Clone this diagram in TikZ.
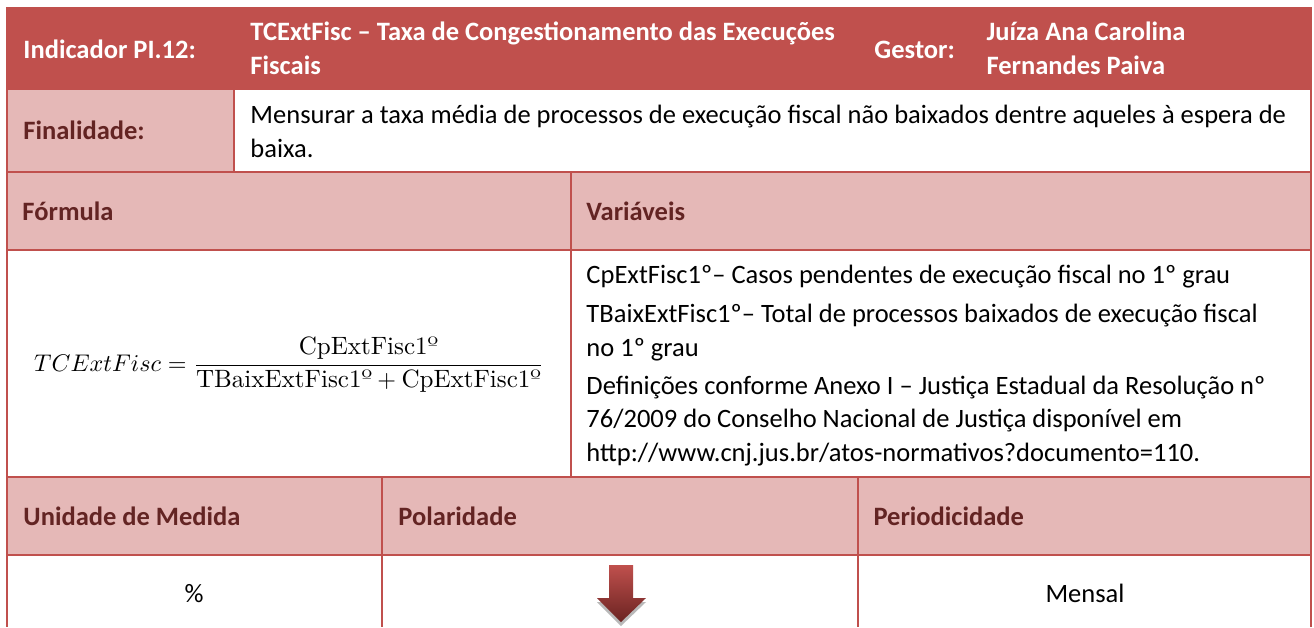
\documentclass[tikz,border=0pt]{standalone}
\usepackage{fontspec}
\usepackage{amsmath}
\newfontfamily\calibri{Carlito}

\definecolor{hdrred}{HTML}{C0504D}
\definecolor{pinkfill}{HTML}{E5B8B7}
\definecolor{labred}{HTML}{632423}
\definecolor{arrowdark}{HTML}{6A2321}

\tikzset{
  gridline/.style={draw=hdrred, line width=0.6pt},
  txt/.style={inner sep=0pt, anchor=base west, align=left,
    font=\calibri\fontsize{11}{13.7}\selectfont},
  hdrtext/.style={txt, text=white, font=\calibri\bfseries\fontsize{11}{13.7}\selectfont},
  labtext/.style={txt, text=labred, font=\calibri\bfseries\fontsize{11}{13.7}\selectfont},
}

\begin{document}
\begin{tikzpicture}[x=0.415pt,y=-0.415pt]

        % Page and cell backgrounds
        \fill[white] (0,0) rectangle (1314,627);
        \useasboundingbox (0,0) rectangle (1314,627);
        \fill[hdrred] (7,7) rectangle (1311,90);
        \fill[pinkfill] (7,90) rectangle (234,172);
        \fill[pinkfill] (7,172) rectangle (1311,250);
        \fill[pinkfill] (7,477) rectangle (1311,555);

        % Draw the table rules
        \draw[gridline] (7,7) -- (7,627);
        \draw[gridline] (1311,7) -- (1311,627);
        \draw[gridline] (7,172) -- (1311,172);
        \draw[gridline] (7,250) -- (1311,250);
        \draw[gridline] (7,477) -- (1311,477);
        \draw[gridline] (7,555) -- (1311,555);
        \draw[gridline] (234,90) -- (234,172);
        \draw[gridline] (571,172) -- (571,477);
        \draw[gridline] (382,477) -- (382,627);
        \draw[gridline] (858,477) -- (858,627);

        % Header row (multi-line nodes sit on their last line)
        \node[hdrtext] (indicador) at (23,58) {Indicador PI.12:};
        \node[hdrtext] (nome) at (250,74) {TCExtFisc – Taxa de Congestionamento das Execuções\\Fiscais};
        \node[hdrtext] (gestor) at (874,58) {Gestor:};
        \node[hdrtext] (juiza) at (986,74) {Juíza Ana Carolina\\Fernandes Paiva};

        % Finalidade row
        \node[labtext] (finalidade) at (23,139) {Finalidade:};
        \node[txt] (mensurar) at (250,157) {Mensurar a taxa média de processos de execução fiscal não baixados dentre aqueles à espera de\\baixa.};

        % Formula and variables
        \node[labtext] (formulalab) at (22,220) {Fórmula};
        \node[labtext] (variaveis) at (586,220) {Variáveis};
        \node[font=\fontsize{10.4}{13}\selectfont] (formula) at (289,365)
          {$TCExtFisc = \dfrac{\text{CpExtFisc1º}}{\text{TBaixExtFisc1º} + \text{CpExtFisc1º}}$};
        \node[txt] (cpext) at (586,283) {CpExtFisc1º– Casos pendentes de execução fiscal no 1º grau};
        \node[txt] (tbaix) at (586,356) {TBaixExtFisc1º– Total de processos baixados de execução fiscal\\no 1º grau};
        \node[txt] (defs) at (586,461) {Definições conforme Anexo I – Justiça Estadual da Resolução nº\\76/2009 do Conselho Nacional de Justiça disponível em\\http://www.cnj.jus.br/atos-normativos?documento=110.};

        % Bottom rows
        \node[labtext] (unidade) at (23,525) {Unidade de Medida};
        \node[labtext] (polaridade) at (398,525) {Polaridade};
        \node[labtext] (periodo) at (873,525) {Periodicidade};
        \node[txt, anchor=base] (pct) at (194,602) {\%};
        \node[txt, anchor=base] (mensal) at (1085,602) {Mensal};

        % Polarity arrow with its shadow
        \fill[gray!55] (597,602) -- (646,602) -- (621,626) -- cycle;
        \shade[top color=hdrred, bottom color=arrowdark]
          (609,565) -- (633,565) -- (633,598) -- (646,598) -- (621,622)
          -- (597,598) -- (609,598) -- cycle;

\end{tikzpicture}
\end{document}
